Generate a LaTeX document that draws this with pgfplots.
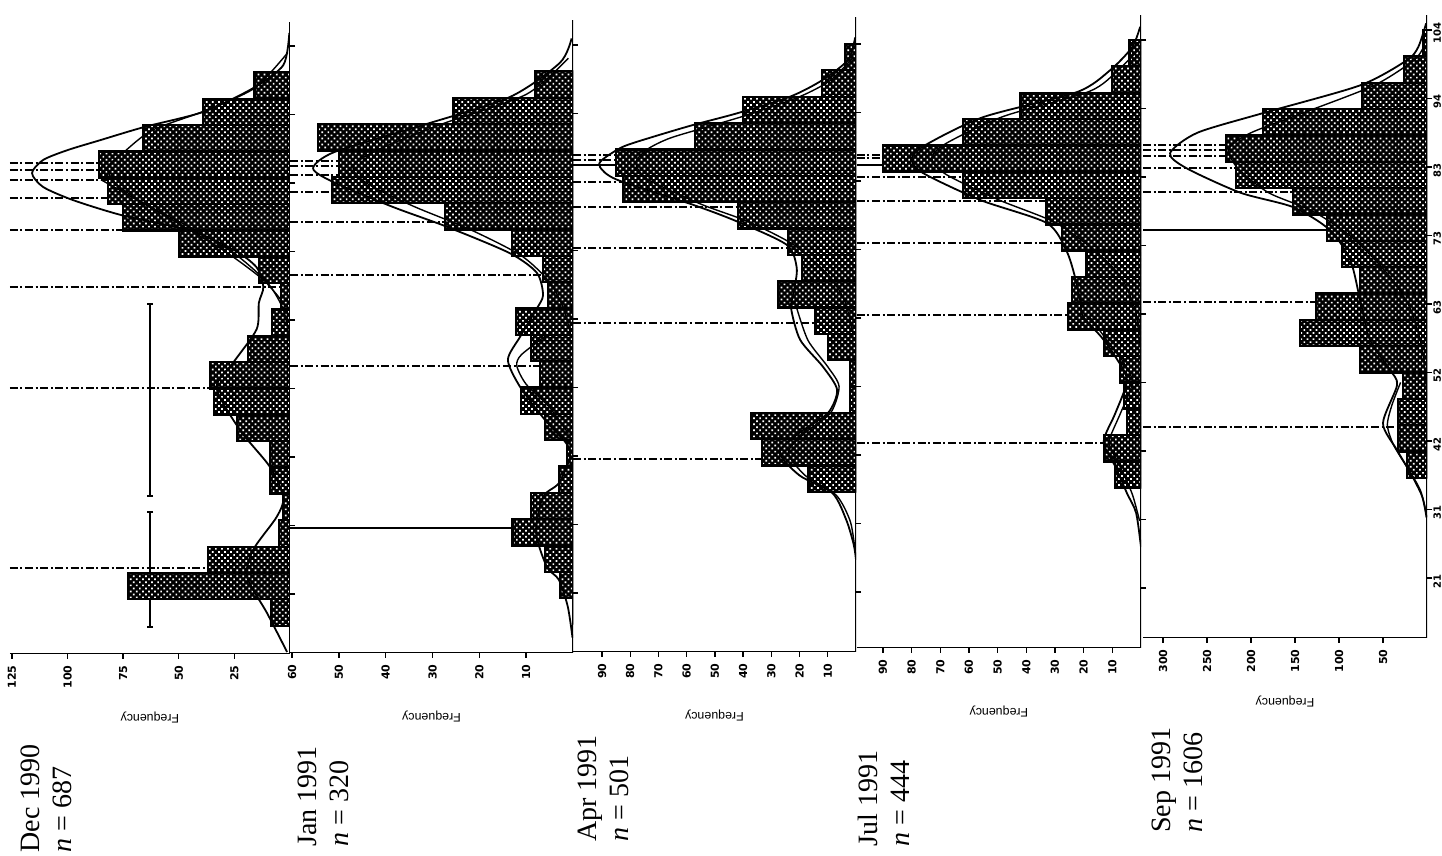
\documentclass[border=0pt]{standalone}
\usepackage{pgfplots}
\pgfplotsset{compat=1.18}
\usetikzlibrary{patterns.meta}
\usepackage{fontspec}
\setmainfont{Liberation Serif}
\setsansfont{Liberation Sans}
\newfontfamily\tickfont{DejaVu Sans}
\tikzset{frame/.style={line width=1.2pt}}
\begin{document}
\begin{tikzpicture}[x=1pt,y=1pt]
\useasboundingbox (0,0) rectangle (721,428);
\pgfplotsset{
 panel/.style={
  x dir=reverse, xmin=0, ymin=11.7,
  y=3.2935pt,
  anchor=south east,
  axis line style={draw=none},
  tick align=outside,
  major tick length=2.5pt,
  tick style={black, line width=0.7pt},
  ytick={20.8,31.2,41.6,52,62.4,72.8,83.2,93.6,104},
  yticklabels={},
  ytick pos=right,
  xtick pos=left,
  xticklabel style={rotate=90, anchor=east, font=\tickfont\bfseries\fontsize{5.5}{6}\selectfont, inner sep=3pt},
  xlabel={Frequency},
  xlabel style={at={(rel axis cs:0.5,0)}, anchor=center, yshift=-31.5pt, rotate=180, font=\sffamily\fontsize{6.2}{7}\selectfont},
  /pgf/number format/assume math mode=true,
 },
 bars/.style={xbar interval, draw=black, line width=1.1pt, fill=black, postaction={pattern={Dots[radius=0.6pt,distance=2.15pt,angle=45]}, pattern color=white}},
 meanline/.style={line width=0.8pt, dash pattern=on 4pt off 1.3pt on 1pt off 1.3pt},
 solidmean/.style={line width=0.8pt},
 curve/.style={line width=0.9pt, smooth, tension=0.45},
 comp/.style={line width=0.7pt, smooth, tension=0.45},
}
% ---------------- Dec 1990 ----------------
\begin{axis}[panel, at={(145pt,101pt)}, x=1.112pt, xmax=126, ymax=107.6, xtick={25,50,75,100,125}]
\addplot[meanline] coordinates {(126,86.24) (0,86.24)};
\addplot[meanline] coordinates {(126,85.18) (0,85.18)};
\addplot[meanline] coordinates {(126,83.66) (0,83.66)};
\addplot[meanline] coordinates {(126,80.92) (0,80.92)};
\addplot[meanline] coordinates {(126,76.07) (0,76.07)};
\addplot[meanline] coordinates {(126,67.41) (0,67.41)};
\addplot[meanline] coordinates {(126,52.08) (0,52.08)};
\addplot[meanline] coordinates {(126,24.75) (0,24.75)};
\addplot[line width=0.9pt, mark=-, mark size=1.6pt, mark options={solid, line width=0.9pt}] coordinates {(63,64.8) (63,35.7)};
\addplot[line width=0.9pt, mark=-, mark size=1.6pt, mark options={solid, line width=0.9pt}] coordinates {(63,33.3) (63,15.8)};
\addplot[bars] coordinates {(8.5,16) (73,20) (37,24) (5,28) (3,32) (9,36) (9,40) (24,44) (34,48) (36,52) (19,56) (8,60) (4,64) (14,68) (50,72) (75,76) (82,80) (86,84) (66,88) (39,92) (16,96) (0,100)};
\addplot[comp] coordinates {(1,103) (16,97.6) (38,94.2) (62,91.2) (75,87.8) (82,85.5) (78,83) (65,80) (45,76.5) (25,72.5) (10,68) (3,64) (0.5,60)};
\addplot[comp] coordinates {(85,83.7) (55,78) (30,73) (12,68.5) (3,65)};
\addplot[curve] coordinates {(0.3,106) (3,101.1) (16.6,97.6) (39,94.0) (65.6,91.7) (85.4,89.7) (100,88.2) (111,86.7) (116,84.7) (111,82.6) (97.5,80.6) (75.5,78.3) (45,76) (25,73) (15,70.4) (12,67.4) (14,65) (15,61) (25.6,55.9) (33,52.1) (22.5,45.7) (9,40.1) (3,35.5) (6,32.5) (16.6,27.5) (19.3,23.4) (10.3,17.9) (1.3,12)};
\draw[frame] (axis cs:126,11.7) -- (axis cs:0,11.7) -- (axis cs:0,107.6);
\end{axis}
% ---------------- Jan 1991 ----------------
\begin{axis}[panel, at={(286.5pt,101.5pt)}, x=2.3415pt, xmax=60.4, ymax=107.8, xtick={10,20,...,60}]
\addplot[meanline] coordinates {(60.4,86.39) (0,86.39)};
\addplot[meanline] coordinates {(60.4,85.63) (0,85.63)};
\addplot[meanline] coordinates {(60.4,84.26) (0,84.26)};
\addplot[meanline] coordinates {(60.4,81.68) (0,81.68)};
\addplot[meanline] coordinates {(60.4,77.13) (0,77.13)};
\addplot[meanline] coordinates {(60.4,69.08) (0,69.08)};
\addplot[meanline] coordinates {(60.4,55.27) (0,55.27)};
\addplot[solidmean] coordinates {(60.4,30.67) (0,30.67)};
\addplot[bars] coordinates {(0,16) (2.8,20) (6,24) (12.9,28) (9,32) (3,36) (1.3,40) (6,44) (11.1,48) (7.1,52) (9,56) (12.1,60) (5.4,64) (6.4,68) (13,72) (27.3,76) (51.5,80) (50,84) (54.4,88) (25.6,92) (8,96) (0,100)};
\addplot[comp] coordinates {(1,102) (10,96.5) (28,92) (42,88) (47,85.5) (44,83) (34,79.5) (22,76) (11,72) (5,68) (2,64) (0.5,60)};
\addplot[comp] coordinates {(5.5,60) (11,57) (12,55.3) (10,52.5) (5,49) (1,45)};
\addplot[curve] coordinates {(0.3,105) (2.8,101.3) (13.5,96.1) (32.7,91.7) (50.8,87.8) (55.5,85.3) (51.2,83.2) (38.4,79.4) (26.9,76.4) (13.5,72.4) (7.7,69.4) (6.4,66) (7.9,63.8) (11.3,59.7) (13.9,56.2) (11.3,52.1) (6.0,47.1) (1.5,43.6) (0.6,41.5) (3.0,37.5) (6.4,35.4) (7.9,30) (5.6,24.8) (3.0,22.8) (1.1,18.7) (0.1,14)};
\draw[frame] (axis cs:60.4,11.7) -- (axis cs:0,11.7) -- (axis cs:0,107.8);
\end{axis}
% ---------------- Apr 1991 ----------------
\begin{axis}[panel, at={(428pt,102pt)}, x=1.411pt, xmax=100.3, ymax=108.1, xtick={10,20,...,90}]
\addplot[meanline] coordinates {(100.3,87.15) (0,87.15)};
\addplot[meanline] coordinates {(100.3,86.39) (0,86.39)};
\addplot[solidmean] coordinates {(100.3,85.63) (0,85.63)};
\addplot[meanline] coordinates {(100.3,83.05) (0,83.05)};
\addplot[meanline] coordinates {(100.3,79.25) (0,79.25)};
\addplot[meanline] coordinates {(100.3,73.03) (0,73.03)};
\addplot[meanline] coordinates {(100.3,61.64) (0,61.64)};
\addplot[meanline] coordinates {(100.3,41.0) (0,41.0)};
\addplot[bars] coordinates {(16.8,36) (33.3,40) (37,44) (2,48) (2,52) (9.9,56) (14.5,60) (27.7,64) (19,68) (24,72) (41.8,76) (82.6,80) (85,84) (57,88) (40,92) (12,96) (4,100) (0,104)};
\addplot[comp] coordinates {(1,102) (9,98.5) (20,96) (38,93.3) (52,91.5) (66,89.7) (74,88) (78,86) (74,83.5) (55,79.7) (38,77) (22,73.5) (10,69) (4,65) (1,60)};
\addplot[comp] coordinates {(21,63.9) (17,59) (10,55) (6,52) (9,48) (18,45) (24,42) (18,38.5) (7,35.5) (2,31.5) (0.3,27)};
\addplot[curve] coordinates {(0.3,105) (2.8,101.6) (12,98.5) (23.4,96) (42,93.5) (57.8,91.7) (72,89.9) (82.6,88.4) (90,86.4) (90.7,85.3) (84.7,83.4) (57.8,79.6) (41.8,77) (24.5,73.5) (21,70) (22,66.5) (23,63.9) (19.8,59.1) (11.7,55) (6.7,51.5) (9.9,48) (20,45) (27,42) (20,38.5) (8.3,35.8) (3.4,31.7) (0.8,28) (0,25.7)};
\draw[frame] (axis cs:100.3,11.7) -- (axis cs:0,11.7) -- (axis cs:0,108.1);
\end{axis}
% ---------------- Jul 1991 ----------------
\begin{axis}[panel, at={(570.5pt,104pt)}, x=1.4335pt, xmax=99.1, ymax=107.8, xtick={10,20,...,90}]
\addplot[meanline] coordinates {(99.1,86.54) (0,86.54)};
\addplot[meanline] coordinates {(99.1,86.09) (0,86.09)};
\addplot[solidmean] coordinates {(99.1,85.02) (0,85.02)};
\addplot[meanline] coordinates {(99.1,83.20) (0,83.20)};
\addplot[meanline] coordinates {(99.1,79.56) (0,79.56)};
\addplot[meanline] coordinates {(99.1,73.18) (0,73.18)};
\addplot[meanline] coordinates {(99.1,62.25) (0,62.25)};
\addplot[meanline] coordinates {(99.1,42.8) (0,42.8)};
\addplot[bars] coordinates {(9,36) (13,40) (5,44) (6,48) (7.3,52) (13,56) (25.5,60) (24,64) (19,68) (27.6,72) (33,76) (62,80) (90,84) (62,88) (42,92) (10,96) (4,100) (0,104)};
\addplot[comp] coordinates {(1,102.5) (8,99.4) (18,96.2) (48,92.4) (68,88.3) (73,86) (68,83.6) (50,79.8) (30,76.3) (16,72) (7,68) (2,63) (0.5,58)};
\addplot[comp] coordinates {(18,62) (12,58.5) (6,55) (3,52) (7,47.5) (10.5,44) (11,42.5) (7,39) (3,35) (0.5,31)};
\addplot[curve] coordinates {(0.3,106) (3.1,102.9) (10.8,99.4) (22.3,96.1) (55,92.3) (75,88.1) (80,86) (76,83.8) (56,79.7) (32.8,76.2) (26,72) (23,68) (21,64) (20.2,62) (13.8,58.9) (8.9,55.9) (4.9,52.4) (8.9,47.4) (12.2,44.3) (12.9,42.5) (8.9,39.2) (4.9,35.2) (1.7,32.2) (0,27)};
\draw[frame] (axis cs:99.1,11.7) -- (axis cs:0,11.7) -- (axis cs:0,107.8);
\end{axis}
% ---------------- Sep 1991 ----------------
\begin{axis}[panel, at={(713.5pt,109pt)}, x=0.44pt, xmax=322.7, ymax=106.3, xtick={50,100,...,300},
  yticklabels={21,31,42,52,63,73,83,94,104}, yticklabel pos=right,
  yticklabel style={rotate=90, anchor=north, xshift=-1.6pt, font=\tickfont\bfseries\fontsize{5}{5.5}\selectfont, inner sep=0.5pt}]
\addplot[meanline] coordinates {(322.7,86.54) (0,86.54)};
\addplot[meanline] coordinates {(322.7,85.78) (0,85.78)};
\addplot[meanline] coordinates {(322.7,84.87) (0,84.87)};
\addplot[meanline] coordinates {(322.7,83.05) (0,83.05)};
\addplot[meanline] coordinates {(322.7,79.41) (0,79.41)};
\addplot[solidmean] coordinates {(322.7,73.64) (0,73.64)};
\addplot[meanline] coordinates {(322.7,62.71) (0,62.71)};
\addplot[meanline] coordinates {(322.7,43.73) (0,43.73)};
\addplot[bars] coordinates {(23,36) (33,40) (33,44) (27,48) (76,52) (144,56) (126,60) (76,64) (97,68) (114,72) (152,76) (217,80) (228,84) (186,88) (74,92) (26,96) (5,100) (0,104)};
\addplot[comp] coordinates {(4,101.4) (15,99.4) (60,95.6) (141,91.4) (200,88.4) (225,86) (215,83) (180,79.3) (130,76.5) (85,72.5) (45,67) (20,62) (6,56) (1,50)};
\addplot[comp] coordinates {(30,50.5) (40,47) (45,44) (38,41) (20,37) (5,33) (0.5,30)};
\addplot[curve] coordinates {(1,105) (10,101.4) (23,99.4) (76,95.6) (186,91.4) (261,88.4) (292,85.3) (273,83) (212,79.3) (152,77.1) (110,73.6) (87,69) (76,63) (65,57) (42,52.4) (34,50.1) (50,44.3) (34,40.2) (8,34.2) (0.5,30)};
\draw[frame] (axis cs:322.7,11.7) -- (axis cs:0,11.7) -- (axis cs:0,106.3);
\end{axis}
% ---------------- panel titles ----------------
\begin{scope}[every node/.style={rotate=90, anchor=north west, align=left, inner sep=0pt, font=\fontsize{14}{16}\selectfont}]
\node at (10pt,1.5pt) {Dec 1990\\\textit{n} = 687};
\node at (149pt,4.5pt) {Jan 1991\\\textit{n} = 320};
\node at (289pt,7pt) {Apr 1991\\\textit{n} = 501};
\node at (429pt,4.5pt) {Jul 1991\\\textit{n} = 444};
\node at (576pt,11.5pt) {Sep 1991\\\textit{n} = 1606};
\end{scope}
\end{tikzpicture}
\end{document}
